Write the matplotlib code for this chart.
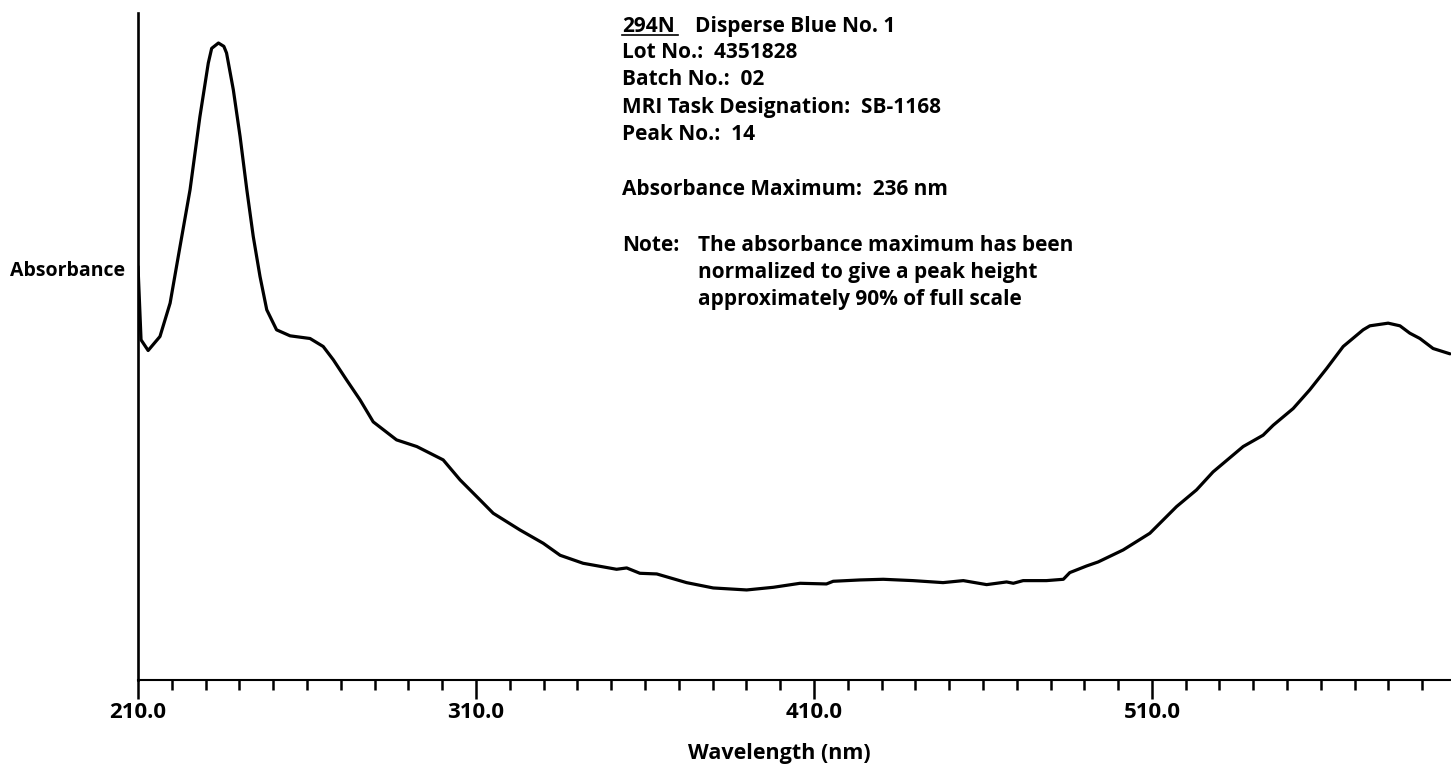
import matplotlib
matplotlib.use("Agg")
import matplotlib.pyplot as plt
from matplotlib.ticker import MultipleLocator

plt.rcParams['font.family'] = ['Open Sans', 'DejaVu Sans']

# Spectrum trace (wavelength in nm, absorbance as fraction of full scale)
wavelength = [210.0, 210.9, 213.0, 216.5, 219.5, 222.4, 225.4, 228.3, 230.8, 231.8,
              233.8, 235.4, 236.2, 238.2, 240.2, 242.2, 244.1, 246.1, 248.1, 251.0,
              255.0, 260.9, 264.8, 267.8, 271.7, 275.7, 279.6, 286.5, 292.5, 300.3,
              305.3, 311.2, 315.1, 323.0, 329.9, 334.9, 341.7, 351.6, 354.6, 358.5,
              363.5, 372.3, 380.2, 390.1, 398.0, 405.9, 413.7, 415.7, 423.6, 430.5,
              439.3, 448.2, 454.2, 461.1, 467.0, 469.0, 471.9, 478.8, 483.8, 485.7,
              490.7, 494.1, 501.5, 509.4, 517.3, 523.2, 528.1, 537.0, 542.9, 545.9,
              551.8, 556.7, 561.7, 566.6, 572.5, 574.5, 579.9, 583.4, 586.3, 589.3,
              593.2, 598.2]
absorbance = [0.620, 0.510, 0.494, 0.515, 0.565, 0.649, 0.735, 0.844, 0.925, 0.947,
              0.955, 0.950, 0.940, 0.885, 0.815, 0.735, 0.665, 0.605, 0.555, 0.525,
              0.516, 0.512, 0.500, 0.480, 0.450, 0.420, 0.387, 0.360, 0.350, 0.330,
              0.300, 0.270, 0.250, 0.225, 0.205, 0.187, 0.175, 0.166, 0.168, 0.160,
              0.159, 0.146, 0.138, 0.135, 0.139, 0.145, 0.144, 0.148, 0.150, 0.151,
              0.149, 0.146, 0.149, 0.143, 0.147, 0.145, 0.149, 0.149, 0.151, 0.161,
              0.171, 0.177, 0.195, 0.220, 0.260, 0.285, 0.312, 0.350, 0.367, 0.382,
              0.407, 0.435, 0.467, 0.500, 0.525, 0.531, 0.535, 0.531, 0.520, 0.512,
              0.497, 0.489]

major_ticks = [210.0, 310.0, 410.0, 510.0]
major_labels = ["210.0", "310.0", "410.0", "510.0"]

info_lines = ["Lot No.:  4351828",
              "Batch No.:  02",
              "MRI Task Designation:  SB-1168",
              "Peak No.:  14"]

W, H = 1451, 769
fig = plt.figure(figsize=(W / 100, H / 100), dpi=100)
ax = fig.add_axes([138 / W, (H - 680) / H, (W - 138) / W, (680 - 13) / H])

ax.plot(wavelength, absorbance, color='black', lw=2.3, solid_joinstyle='round',
        solid_capstyle='round')
ax.set_xlim(210.0, 598.5)
ax.set_ylim(0, 1)

for s in ['top', 'right']:
    ax.spines[s].set_visible(False)
ax.spines['left'].set_linewidth(1.9)
ax.spines['bottom'].set_linewidth(1.5)

ax.set_yticks([])
ax.set_xticks(major_ticks)
ax.set_xticklabels(major_labels, fontsize=16, fontweight='bold')
ax.xaxis.set_minor_locator(MultipleLocator(10))
ax.tick_params(axis='x', which='major', direction='out', length=14, width=1.8, pad=1.5)
ax.tick_params(axis='x', which='minor', direction='out', length=7, width=1.8)

ax.set_xlabel("Wavelength (nm)", fontsize=15.5, fontweight='bold')
ax.xaxis.set_label_coords((779 - 138) / (W - 138), -(754 - 680) / (680 - 13))
ax.xaxis.label.set_va('center')


def ftext(x, y, s, **kw):
    fig.text(x / W, 1 - y / H, s, **kw)


ftext(125, 271, "Absorbance", ha='right', va='center', fontsize=14, fontweight='bold')

FS = 15
tx = 622
ftext(tx, 31.7, "294N", ha='left', va='baseline', fontsize=FS, fontweight='bold')
ftext(695, 31.7, "Disperse Blue No. 1", ha='left', va='baseline', fontsize=FS,
      fontweight='bold')
fig.add_artist(plt.Line2D([tx / W, 678 / W], [1 - 35 / H, 1 - 35 / H], color='black',
                          lw=1.2, transform=fig.transFigure))
baselines = [58.3, 85.0, 112.7, 140.0]
for s, yb in zip(info_lines, baselines):
    ftext(tx, yb, s, ha='left', va='baseline', fontsize=FS, fontweight='bold')
ftext(tx, 195, "Absorbance Maximum:  236 nm", ha='left', va='baseline', fontsize=FS,
      fontweight='bold')
ftext(tx, 250.7, "Note:", ha='left', va='baseline', fontsize=FS, fontweight='bold')
note = ["The absorbance maximum has been",
        "normalized to give a peak height",
        "approximately 90% of full scale"]
for s, yb in zip(note, [250.7, 278.3, 305.0]):
    ftext(698, yb, s, ha='left', va='baseline', fontsize=FS, fontweight='bold')

fig.savefig("out.png", dpi=100, facecolor='white')
